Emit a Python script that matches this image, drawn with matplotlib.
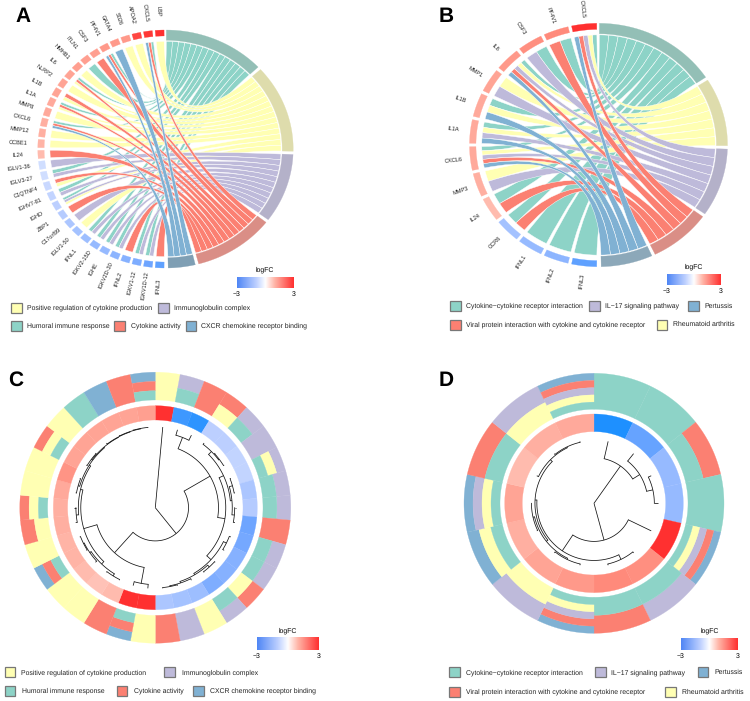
import numpy as np
import matplotlib
matplotlib.use('Agg')
import matplotlib.pyplot as plt
from matplotlib.colors import LinearSegmentedColormap
from matplotlib.patches import PathPatch, Polygon, Rectangle
from matplotlib.path import Path

plt.rcParams['font.family'] = ['Liberation Sans', 'DejaVu Sans']
plt.rcParams['text.hinting'] = 'none'

# Term colours
TEAL, YELLOW, PURPLE, RED, BLUE = '#8DD3C7', '#FFFFB3', '#BEBADA', '#FB8072', '#80B1D3'

# GO terms (panels A, C)
go_names = {'H': 'Humoral immune response', 'P': 'Positive regulation of cytokine production',
            'I': 'Immunoglobulin complex', 'C': 'Cytokine activity', 'X': 'CXCR chemokine receptor binding'}
go_order = ['H', 'P', 'I', 'C', 'X']
go_colors = {'H': TEAL, 'P': YELLOW, 'I': PURPLE, 'C': RED, 'X': BLUE}
go_ring = {'H': '#93BFB6', 'P': '#DEDCAC', 'I': '#B4B1C9', 'C': '#DA8E86', 'X': '#7F9FB4'}

# KEGG terms (panels B, D)
kegg_names = {'T': 'Cytokine\u2212cytokine receptor interaction', 'Y': 'Rheumatoid arthritis',
              'L': 'IL\u221217 signaling pathway', 'V': 'Viral protein interaction with cytokine and cytokine receptor',
              'X': 'Pertussis'}
kegg_order = ['T', 'Y', 'L', 'V', 'X']
kegg_colors = {'T': TEAL, 'Y': YELLOW, 'L': PURPLE, 'V': RED, 'X': BLUE}
kegg_ring = {'T': '#93BFB6', 'Y': '#DEDCAC', 'L': '#B4B1C9', 'V': '#DA8E86', 'X': '#8CA8B9'}

# Panel A genes, top to bottom, with their chords
a_genes = ['LBP', 'CXCL5', 'APOA2', 'S026', 'GATA4', 'PF4V1', 'CSF3', 'ITLN1', 'HMHB1', 'IL6', 'NLRP2', 'IL1B',
           'IL1A', 'MMP8', 'CXCL6', 'MMP12', 'CCBE1', 'IL24', 'IGLV1-36', 'IGLV3-27', 'C1QTNF4', 'IGHV7-81',
           'IGHD', 'ZBP1', 'C17orf99', 'IGLV1-50', 'IFNL1', 'IGKV2-15D', 'IGHE', 'IGKV2D-30', 'IFNL2',
           'IGKV1-12', 'IGKV1D-12', 'IFNL3']
a_terms = ['P', 'HCX', 'P', 'P', 'X', 'HCX', 'C', 'H', 'P', 'HCP', 'P', 'CP', 'HCP', 'P', 'HCX', 'P', 'P', 'C',
           'I', 'HI', 'CP', 'HI', 'HIP', 'C', 'I', 'P', 'HI', 'HI', 'HI', 'HI', 'C', 'HI', 'HI', 'C']
a_fc = [3, 2.9, 2.7, 1.5, 1.5, 1.5, 1.4, 1.4, 1.4, 1.3, 1.3, 1.3, 1.2, 1.2, 1.1, 1.1, 1, 0.9,
        -0.7, -0.7, -0.8, -0.9, -1, -1.1, -1.2, -1.3, -1.4, -1.5, -1.5, -1.6, -1.7, -1.8, -2, -2.2]

# Panel B genes
b_genes = ['CXCL5', 'PF4V1', 'CSF3', 'IL6', 'MMP1', 'IL1B', 'IL1A', 'CXCL6', 'MMP3', 'IL24', 'CCR6',
           'IFNL1', 'IFNL2', 'IFNL3']
b_terms = ['TYLVX', 'TV', 'TL', 'TYLVX', 'YL', 'TYX', 'TYLX', 'TYLVX', 'YL', 'TV', 'TV', 'T', 'T', 'T']
b_fc = [3, 1.8, 1.7, 1.5, 1.3, 1.2, 1.2, 1.2, 1.1, 0.9, -1.3, -1.5, -1.6, -2.2]

# Panel C sectors clockwise from the top, stack letters outer to inner
c_stacks = ['P', 'IH', 'C', 'CP', 'IH', 'I', 'IPH', 'IH', 'IH', 'C', 'IH', 'IH', 'CP', 'IH', 'P', 'I', 'C',
            'P', 'XCH', 'C', 'P', 'P', 'XCH', 'P', 'CP', 'CPH', 'P', 'P', 'CPH', 'P', 'H', 'X', 'C', 'XCH']
c_fc = [3, -2.6, -2.8, -1, -1, -0.9, -0.9, -1.2, -1.1, -2, -1.9, -1.7, -1.7, -1.8, -1.4, -1.3, -1.2,
        3, 3, 0.9, 0.8, 0.9, 1, 1, 1.1, 1.1, 1.2, 1.6, 1.3, 1.3, 1.3, 1.3, 1.3, 1.4]

# Panel D sectors
d_stacks = ['T', 'T', 'VT', 'T', 'XVLYT', 'LT', 'VT', 'XVLYT', 'LY', 'XYT', 'XLYT', 'VT', 'LY', 'XVLYT']
d_fc = [-3, -2.1, -1.5, -1.5, 3, 1.7, 1.8, 1.5, 1.3, 1.1, 1.3, 0.9, 1.1, 1.2]

# Dendrograms: [height, child, child], ints are leaf numbers
c_tree = [0, 0, [0.41,
                 [0.78, [0.93, 1, 2],
                  [0.87,
                   [0.93, [0.98, 3, [0.99, 4, 5]], [0.95, [0.99, 6, 7], [0.98, 8, 9]]],
                   [0.94, [0.98, 10, 11], [0.96, [0.99, 12, 13], [0.98, 14, [0.99, 15, 16]]]]]],
                 [0.75, [0.95, 17, 18],
                  [0.92,
                   [0.96, [0.99, 19, 20], [0.98, 21, [0.99, 22, 23]]],
                   [0.95, [0.98, 24, 25], [0.97, [0.99, 26, 27], [0.98, [0.99, 28, 29], [0.985, 30, [0.99, 31, [0.995, 32, 33]]]]]]]]]]
d_tree = [0, [0.72, 0, [0.85, 1, [0.95, 2, 3]]],
          [0.6, 4, [0.9, [0.98, 5, 6],
                    [0.93, [0.96, [0.98, 7, 8], [0.985, 9, 10]], [0.97, 11, [0.985, 12, 13]]]]]]

# Legend rows: (term key, swatch left, text left)
a_legend = [[('P', 11, 26.7), ('I', 158, 174)], [('H', 11, 26.7), ('C', 114, 130.7), ('X', 185.7, 201)]]
b_legend = [[('T', 450, 466), ('L', 589, 605), ('X', 688, 704)], [('V', 450, 466), ('Y', 656.7, 672.7)]]
c_legend = [[('P', 4.7, 21), ('I', 164, 181.7)], [('H', 4.7, 21.7), ('C', 116.7, 134), ('X', 193, 210)]]
d_legend = [[('T', 449, 466), ('L', 595, 611), ('X', 697.7, 714.7)], [('V', 449, 466), ('Y', 665, 682)]]

fc_cmap = LinearSegmentedColormap.from_list('fc', [(0, '#1E90FF'), (1 / 6, '#6FA5FF'), (1 / 3, '#BCCFFF'), (0.5, '#FFFFFF'),
                                                   (2 / 3, '#FFB4A6'), (5 / 6, '#FF8070'), (1, '#FF3030')])
bar_cmap = LinearSegmentedColormap.from_list('bar', [(0, '#4F86F5'), (1 / 3, '#BCCFFF'), (0.5, '#FFFFFF'),
                                                     (2 / 3, '#FFB4A6'), (1, '#FF3030')])


def fc_color(v):
    return fc_cmap((v + 3) / 6)


fig = plt.figure(figsize=(7.5, 7.01), dpi=100)
ax = fig.add_axes([0, 0, 1, 1])


def xy(cx, cy, rx, ry, ang, r):
    # compass angle, clockwise from the top
    a = np.radians(ang)
    return cx + rx * r * np.sin(a), cy - ry * r * np.cos(a)


def arc_pts(cx, cy, rx, ry, a1, a2, r, n=24):
    x, y = xy(cx, cy, rx, ry, np.linspace(a1, a2, n), r)
    return np.column_stack([x, y])


def sector(cx, cy, rx, ry, a1, a2, r1, r2, color):
    pts = np.vstack([arc_pts(cx, cy, rx, ry, a1, a2, r2), arc_pts(cx, cy, rx, ry, a2, a1, r1)])
    ax.add_patch(Polygon(pts, closed=True, facecolor=color, edgecolor=color, linewidth=0.2))


def chord_panel(cx, cy, rx, ry, genes, terms, fc, order, colors, ring, gap, label_r):
    n = len(genes)
    step = 180 / n
    # number of chords in each term sets the term width
    counts = {k: sum(t.count(k) for t in terms) for k in order}
    total = sum(counts.values())
    term_gap = 1.6
    per = (180 - term_gap * len(order)) / total
    start = {}
    a = 0.4
    for k in order:
        start[k] = a
        sector(cx, cy, rx, ry, a, a + counts[k] * per, 0.914, 1.0, ring[k])
        a += counts[k] * per + term_gap
    used = {k: 0 for k in order}
    chords = {k: [] for k in order}
    for i, (g, t) in enumerate(zip(genes, terms)):
        g_hi = 360 - i * step - gap / 2
        g_lo = g_hi - step + gap
        sector(cx, cy, rx, ry, g_lo, g_hi, 0.95, 1.0, fc_color(fc[i]))
        mid = (g_lo + g_hi) / 2
        tx, ty = xy(cx, cy, rx, ry, mid, label_r)
        ax.text(tx, ty, g, fontsize=4.1, ha='center', va='center', rotation=270 - mid, rotation_mode='anchor', color='#222222')
        w = (g_hi - g_lo) / len(t)
        for j, k in enumerate(t):
            t1 = start[k] + used[k] * per
            used[k] += 1
            chords[k].append((g_hi - (j + 1) * w, g_hi - j * w, t1, t1 + per))
    for k in order:
        for lo, hi, t1, t2 in chords[k]:
            r = 0.905
            g_arc = arc_pts(cx, cy, rx, ry, lo, hi, r)
            t_arc = arc_pts(cx, cy, rx, ry, t1, t2, r)
            verts = list(g_arc) + [(cx, cy), t_arc[0]] + list(t_arc[1:]) + [(cx, cy), g_arc[0]]
            codes = [Path.MOVETO] + [Path.LINETO] * (len(g_arc) - 1) + [Path.CURVE3, Path.CURVE3] + \
                    [Path.LINETO] * (len(t_arc) - 1) + [Path.CURVE3, Path.CURVE3]
            ax.add_patch(PathPatch(Path(verts, codes), facecolor=colors[k], edgecolor='white', linewidth=0.3))


def draw_tree(node, cx, cy, rim, step):
    # returns angle and height of the node
    if isinstance(node, int):
        return (node + 0.5) * step, 1.0
    h, c1, c2 = node
    a1, h1 = draw_tree(c1, cx, cy, rim, step)
    a2, h2 = draw_tree(c2, cx, cy, rim, step)
    for a, hc in ((a1, h1), (a2, h2)):
        px, py = xy(cx, cy, rim, rim, a, np.array([h, hc]))
        ax.plot(px, py, color='#111111', lw=0.55, solid_capstyle='butt')
    pts = arc_pts(cx, cy, rim, rim, a1, a2, h, n=40)
    ax.plot(pts[:, 0], pts[:, 1], color='#111111', lw=0.55)
    return (a1 + a2) / 2, h


def heat_panel(cx, cy, outer, inner, rim, stacks, fc, colors, tree):
    n = len(stacks)
    step = 360 / n
    for i, s in enumerate(stacks):
        a1, a2 = i * step, (i + 1) * step
        sector(cx, cy, 1, 1, a1, a2, inner[0], inner[1], fc_color(fc[i]))
        dr = (outer[1] - outer[0]) / len(s)
        for j, k in enumerate(s):
            sector(cx, cy, 1, 1, a1, a2, outer[1] - (j + 1) * dr, outer[1] - j * dr, colors[k])
    draw_tree(tree, cx, cy, rim, step)


def colorbar(x0, x1, y0, y1):
    grad = np.linspace(0, 1, 128).reshape(1, -1)
    ax.imshow(grad, cmap=bar_cmap, extent=[x0, x1, y1, y0], aspect='auto', zorder=3)
    ax.text((x0 + x1) / 2, y0 - 7, 'logFC', fontsize=4.95, ha='center', va='center')
    ax.text(x0, y1 + 6, '\u22123', fontsize=4.95, ha='center', va='center')
    ax.text(x1, y1 + 6, '3', fontsize=4.95, ha='center', va='center')


def legend(rows, ys, names, colors):
    for row, y in zip(rows, ys):
        for key, sx, tx in row:
            ax.add_patch(Rectangle((sx, y - 5), 10.5, 10, facecolor=colors[key], edgecolor='#777777', linewidth=0.9))
            ax.text(tx, y, names[key], fontsize=4.95, ha='left', va='center', color='#222222')


chord_panel(165.5, 149, 127.7, 119, a_genes, a_terms, a_fc, go_order, go_colors, go_ring, 1.3, 1.155)
chord_panel(598.5, 145, 129, 121.7, b_genes, b_terms, b_fc, kegg_order, kegg_colors, kegg_ring, 1.6, 1.13)
heat_panel(155.3, 507.7, (107.7, 135.5), (87.7, 102), 81, c_stacks, c_fc, go_colors, c_tree)
heat_panel(594, 503.3, (94, 130), (71.7, 89.3), 63.5, d_stacks, d_fc, kegg_colors, d_tree)

colorbar(236.7, 293.3, 277, 288)
colorbar(667, 721, 274, 285)
colorbar(256.7, 318.3, 637.7, 650)
colorbar(681, 737.7, 638, 650)

legend(a_legend, [308, 325.7], go_names, go_colors)
legend(b_legend, [306, 324.5], kegg_names, kegg_colors)
legend(c_legend, [672.3, 690.7], go_names, go_colors)
legend(d_legend, [672.3, 691.7], kegg_names, kegg_colors)

for letter, x, y in [('A', 22.7, 16.7), ('B', 445.7, 16.7), ('C', 16, 380.7), ('D', 445.7, 380.7)]:
    ax.text(x, y, letter, fontsize=15, fontweight='bold', ha='center', va='center')

ax.set_xlim(0, 750)
ax.set_ylim(701, 0)
ax.axis('off')
fig.savefig('out.png', dpi=100)
